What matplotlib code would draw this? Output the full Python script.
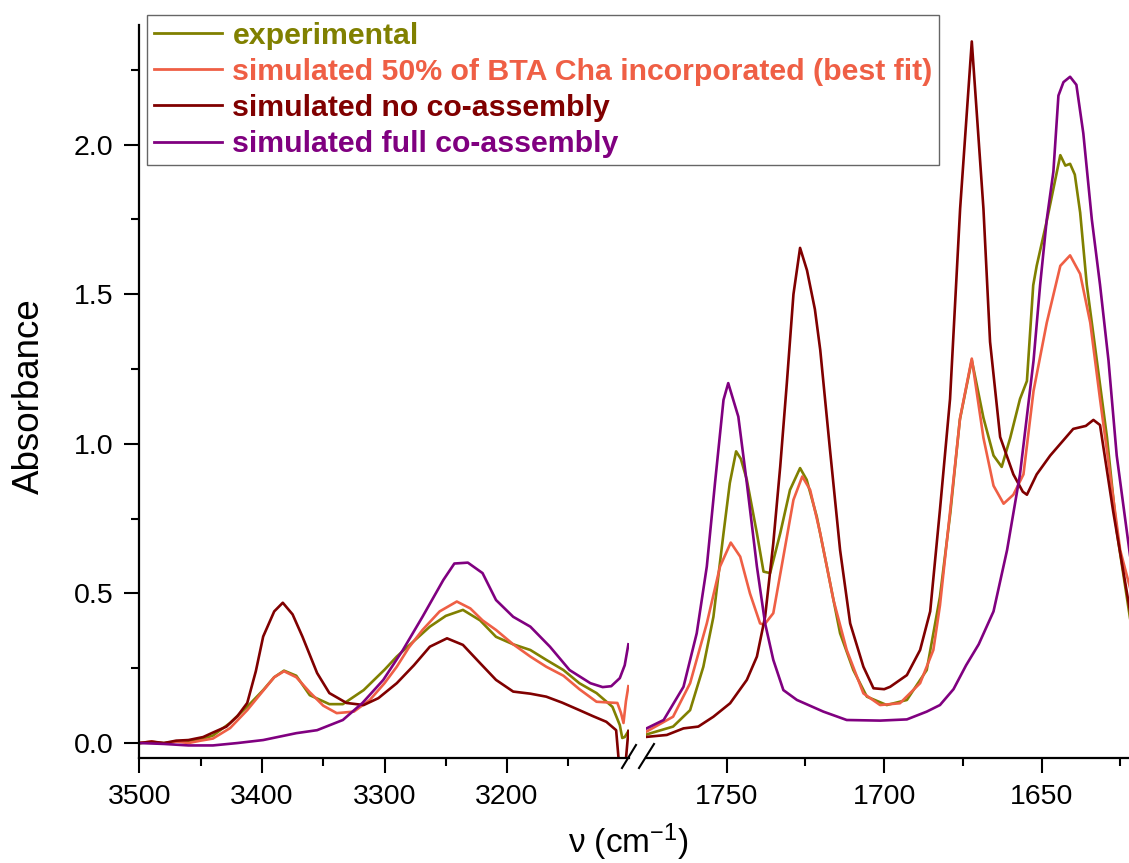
import matplotlib
matplotlib.use("Agg")
import matplotlib.pyplot as plt
from matplotlib.lines import Line2D
from matplotlib.ticker import FixedLocator
import numpy as np

plt.rcParams['font.family'] = ['Liberation Sans', 'DejaVu Sans']
plt.rcParams['mathtext.default'] = 'regular'

# ---------------- data ----------------
labels = ["experimental",
          "simulated 50% of BTA Cha incorporated (best fit)",
          "simulated no co-assembly",
          "simulated full co-assembly"]
colors = ["#808000", "#EF5F45", "#800000", "#800080"]

# Left panel (N-H region)
exp_L_x = [3500, 3490, 3480, 3470, 3460, 3450, 3440, 3426, 3410, 3399, 3390, 3382, 3372, 3361, 3345, 3334,
           3317, 3300, 3290, 3263, 3250, 3236, 3222, 3209, 3195, 3181, 3168, 3154, 3141, 3127, 3114, 3108,
           3106, 3104, 3101]
exp_L_y = [0.0, 0.003, 0.0, 0.005, 0.005, 0.012, 0.025, 0.067, 0.13, 0.177, 0.22, 0.242, 0.225, 0.16, 0.13, 0.13,
           0.177, 0.245, 0.289, 0.389, 0.425, 0.445, 0.41, 0.355, 0.33, 0.311, 0.278, 0.244, 0.2, 0.167, 0.121, 0.06,
           0.017, 0.02, 0.04]

fit_L_x = [3500, 3490, 3480, 3470, 3460, 3450, 3440, 3426, 3412, 3399, 3390, 3382, 3372, 3361, 3350, 3339,
           3325, 3312, 3300, 3290, 3280, 3269, 3255, 3241, 3230, 3220, 3209, 3195, 3181, 3168, 3154, 3141,
           3127, 3115, 3110, 3107, 3105, 3103, 3101]
fit_L_y = [0.0, 0.005, -0.002, 0.005, 0.0, 0.008, 0.015, 0.05, 0.11, 0.175, 0.22, 0.24, 0.22, 0.17, 0.125, 0.1,
           0.105, 0.144, 0.2, 0.255, 0.32, 0.378, 0.44, 0.473, 0.45, 0.41, 0.378, 0.33, 0.289, 0.255, 0.225, 0.18,
           0.138, 0.135, 0.134, 0.1, 0.067, 0.14, 0.19]

no_L_x = [3500, 3490, 3480, 3470, 3460, 3448, 3440, 3429, 3420, 3412, 3405, 3399, 3390, 3383, 3375, 3367,
          3355, 3345, 3331, 3317, 3305, 3290, 3276, 3263, 3249, 3236, 3222, 3209, 3195, 3181, 3168, 3155,
          3141, 3130, 3119, 3111, 3108, 3104, 3101]
no_L_y = [0.0, 0.005, 0.0, 0.008, 0.01, 0.02, 0.035, 0.055, 0.09, 0.134, 0.24, 0.356, 0.44, 0.469, 0.43, 0.356,
          0.234, 0.167, 0.134, 0.127, 0.15, 0.2, 0.26, 0.322, 0.35, 0.328, 0.267, 0.211, 0.172, 0.165, 0.155, 0.135,
          0.11, 0.09, 0.071, 0.043, -0.1, -0.1, 0.04]

full_L_x = [3500, 3480, 3460, 3440, 3420, 3399, 3372, 3355, 3334, 3318, 3301, 3285, 3269, 3252, 3243, 3232,
            3220, 3209, 3195, 3181, 3165, 3149, 3132, 3122, 3115, 3108, 3104, 3101]
full_L_y = [0.0, -0.003, -0.008, -0.008, 0.0, 0.01, 0.033, 0.043, 0.077, 0.134, 0.211, 0.311, 0.422, 0.545, 0.6, 0.603,
            0.568, 0.478, 0.422, 0.389, 0.322, 0.244, 0.2, 0.187, 0.19, 0.217, 0.26, 0.33]

# Right panel (C=O / amide region)
exp_R_x = [1776, 1767, 1761.6, 1757.4, 1754.2, 1751, 1749, 1747, 1745.5, 1743.6, 1740.4, 1738.3, 1736.2, 1733,
           1729.9, 1726.7, 1724.6, 1721.4, 1718.2, 1714, 1709.8, 1705.5, 1699.2, 1692.8, 1686.5, 1682.3, 1679,
           1676, 1672.2, 1668.5, 1665.3, 1662.7, 1660, 1656.9, 1654.7, 1652.7, 1651.6, 1648.4, 1644.1, 1642.5,
           1641, 1639.5, 1637.8, 1635.7, 1632.5, 1629.3, 1626.2, 1621]
exp_R_y = [0.027, 0.055, 0.11, 0.255, 0.422, 0.701, 0.869, 0.975, 0.95, 0.88, 0.701, 0.573, 0.568, 0.701,
           0.846, 0.919, 0.88, 0.757, 0.59, 0.367, 0.244, 0.155, 0.127, 0.144, 0.244, 0.489, 0.77,
           1.08, 1.28, 1.087, 0.961, 0.923, 1.02, 1.15, 1.21, 1.53, 1.595, 1.745, 1.965, 1.93,
           1.936, 1.9, 1.773, 1.532, 1.278, 1.023, 0.709, 0.35]

fit_R_x = [1776, 1767, 1761.6, 1756.3, 1752.1, 1748.7, 1745.7, 1742.6, 1739.4, 1738.1, 1735.2, 1732, 1728.8,
           1726, 1723.5, 1720.3, 1716.1, 1711.9, 1706.6, 1701.3, 1695, 1688.6, 1684.4, 1682.3, 1679.1, 1675.9,
           1672.2, 1668.5, 1665.3, 1662.1, 1659, 1655.8, 1652.6, 1648.4, 1644.1, 1641, 1637.8, 1634.6, 1631.5,
           1628.3, 1625.1, 1621]
fit_R_y = [0.035, 0.088, 0.2, 0.4, 0.59, 0.67, 0.623, 0.5, 0.4, 0.395, 0.434, 0.623, 0.813,
           0.891, 0.846, 0.701, 0.478, 0.311, 0.166, 0.127, 0.133, 0.2, 0.311, 0.46, 0.773, 1.087,
           1.285, 1.02, 0.86, 0.80, 0.83, 0.898, 1.177, 1.405, 1.595, 1.63, 1.568, 1.405, 1.15,
           0.898, 0.645, 0.48]

no_R_x = [1776, 1769, 1763.7, 1759, 1754.2, 1748.9, 1743.6, 1740.4, 1737.8, 1735.2, 1733, 1730.9, 1728.8,
          1726.7, 1724.5, 1722, 1720.3, 1717.2, 1714, 1710.8, 1706.6, 1703.4, 1700, 1698.1, 1692.8, 1688.6,
          1685.4, 1682.3, 1679.1, 1675.9, 1672.2, 1668.5, 1666.4, 1663.2, 1659, 1656, 1654.7, 1651.6, 1647.3,
          1640, 1636, 1633.6, 1631.5, 1627.3, 1621]
no_R_y = [0.02, 0.027, 0.049, 0.055, 0.088, 0.133, 0.211, 0.289, 0.422, 0.668, 0.924, 1.203, 1.5,
          1.655, 1.58, 1.45, 1.314, 0.98, 0.645, 0.4, 0.255, 0.183, 0.18, 0.188, 0.227, 0.311,
          0.44, 0.78, 1.15, 1.786, 2.345, 1.786, 1.341, 1.023, 0.898, 0.84, 0.83, 0.898, 0.961,
          1.05, 1.06, 1.08, 1.063, 0.773, 0.38]

full_R_x = [1776, 1770, 1763.7, 1759.5, 1756.3, 1753.7, 1751, 1749.5, 1746.3, 1743.6, 1740.4, 1737.8, 1735.2,
            1732, 1727.7, 1719.3, 1711.9, 1701.3, 1692.8, 1686.5, 1682.3, 1678, 1674, 1670, 1665.3, 1661,
            1656.9, 1652.6, 1650.5, 1648.4, 1646.3, 1644.7, 1643.1, 1641, 1639, 1636.8, 1634.1, 1631.5,
            1628.8, 1626.2, 1621]
full_R_y = [0.046, 0.077, 0.188, 0.367, 0.59, 0.869, 1.147, 1.203, 1.091, 0.869, 0.59, 0.4, 0.278,
            0.177, 0.144, 0.105, 0.077, 0.075, 0.079, 0.105, 0.127, 0.18, 0.26, 0.33, 0.44, 0.645,
            0.898, 1.278, 1.532, 1.75, 1.91, 2.164, 2.209, 2.227, 2.2, 2.038, 1.75, 1.532,
            1.278, 0.961, 0.55]

left_series = [(exp_L_x, exp_L_y), (fit_L_x, fit_L_y), (no_L_x, no_L_y), (full_L_x, full_L_y)]
right_series = [(exp_R_x, exp_R_y), (fit_R_x, fit_R_y), (no_R_x, no_R_y), (full_R_x, full_R_y)]

left_major = [3500, 3400, 3300, 3200]
left_minor = [3450, 3350, 3250, 3150]
right_major = [1750, 1700, 1650]
right_minor = [1725, 1675, 1625]
y_major = [0.0, 0.5, 1.0, 1.5, 2.0]
y_minor = [0.25, 0.75, 1.25, 1.75, 2.25]

# ---------------- figure ----------------
W, H = 1129, 863
fig = plt.figure(figsize=(W / 100, H / 100), dpi=100)

def fx(px):
    return px / W

def fy(py):
    return 1 - py / H

ax_top, ax_bot = 25, 758
ax1 = fig.add_axes([fx(139.4), fy(ax_bot), fx(629 - 139.4), (ax_bot - ax_top) / H])
ax2 = fig.add_axes([fx(646), fy(ax_bot), fx(W - 646), (ax_bot - ax_top) / H])

lw = 1.9
handles = []
for (x, y), c, lab in zip(left_series, colors, labels):
    h, = ax1.plot(x, y, color=c, lw=lw, label=lab)
    handles.append(h)
for (x, y), c in zip(right_series, colors):
    ax2.plot(x, y, color=c, lw=lw)

ax1.set_xlim(3500, 3100.5)
ax2.set_xlim(1775.6, 1622.3)
for ax in (ax1, ax2):
    ax.set_ylim(-0.05, 2.40)
    ax.spines['top'].set_visible(False)
    ax.spines['right'].set_visible(False)
    for s in ax.spines.values():
        s.set_linewidth(1.6)
    ax.tick_params(axis='both', which='major', length=11, width=1.5, direction='out',
                   labelsize=20.5, pad=7.5)
    ax.tick_params(axis='both', which='minor', length=5.5, width=1.5, direction='out')

ax1.xaxis.set_major_locator(FixedLocator(left_major))
ax1.xaxis.set_minor_locator(FixedLocator(left_minor))
ax1.yaxis.set_major_locator(FixedLocator(y_major))
ax1.yaxis.set_minor_locator(FixedLocator(y_minor))
ax1.set_xticklabels([str(v) for v in left_major])
ax1.set_yticklabels([f"{v:.1f}" for v in y_major])

ax2.xaxis.set_major_locator(FixedLocator(right_major))
ax2.xaxis.set_minor_locator(FixedLocator(right_minor))
ax2.set_xticklabels([str(v) for v in right_major])
ax2.spines['left'].set_visible(False)
ax2.tick_params(axis='y', which='both', left=False, labelleft=False)

# break marks
for (x0, y0, x1, y1) in [(622, 768, 636, 745), (639, 768, 654, 744)]:
    fig.add_artist(Line2D([fx(x0), fx(x1)], [fy(y0), fy(y1)], color='black', lw=1.5))

# axis labels
fig.text(fx(29), fy(396), "Absorbance", rotation=90, ha='center', va='center', fontsize=26.5)
fig.text(fx(628), fy(842), "ν (cm$^{-1}$)", ha='center', va='center', fontsize=24)

# legend
leg = fig.legend(handles=handles, loc='upper left', bbox_to_anchor=(fx(147), fy(15)),
                 prop={'family': 'Liberation Sans', 'weight': 'bold', 'size': 21.8},
                 frameon=True, fancybox=False, borderpad=0.22, labelspacing=0.27,
                 handlelength=2.25, handletextpad=0.35, borderaxespad=0.0)
leg.get_frame().set_edgecolor('#404040')
leg.get_frame().set_linewidth(1.0)
for t, c in zip(leg.get_texts(), colors):
    t.set_color(c)
for l in leg.get_lines():
    l.set_linewidth(2.0)

fig.savefig("out.png", dpi=100)
